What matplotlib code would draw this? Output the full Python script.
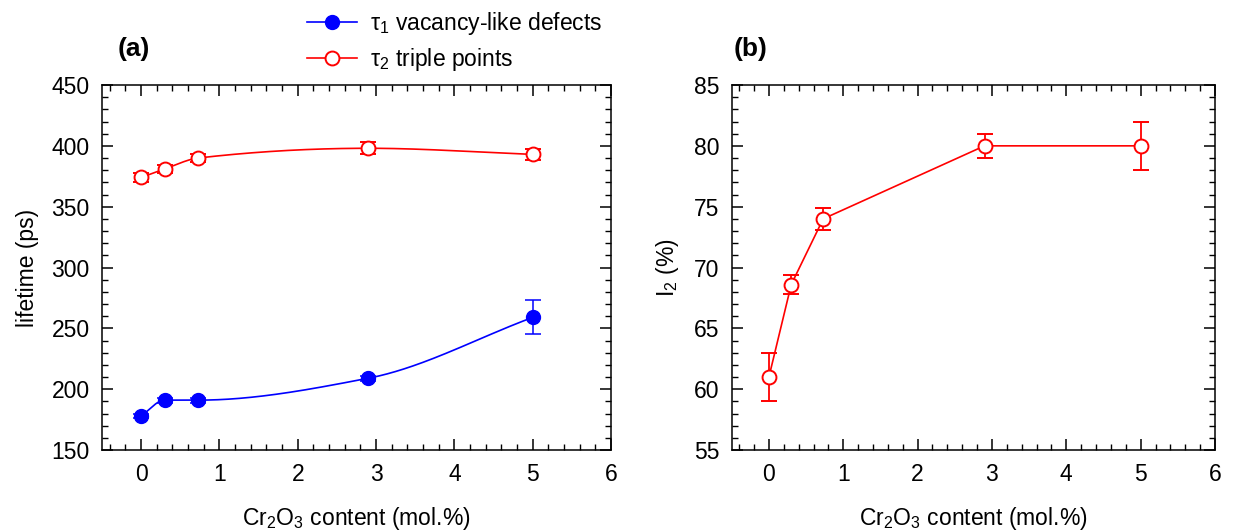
import matplotlib
matplotlib.use("Agg")
import matplotlib.pyplot as plt
import numpy as np
from matplotlib.ticker import MultipleLocator

plt.rcParams['font.family'] = ['Liberation Sans', 'DejaVu Sans']
plt.rcParams['mathtext.fontset'] = 'custom'
plt.rcParams['mathtext.rm'] = 'Liberation Sans'
plt.rcParams['mathtext.it'] = 'Liberation Sans'
plt.rcParams['font.size'] = 16.5

# data
cr2o3 = [0, 0.3, 0.73, 2.9, 5]
tau1 = [178, 191, 191, 209, 259]
tau1_err = [2, 2, 2, 2, 14]
tau2 = [374, 381, 390, 398, 393]
tau2_err = [4, 3.5, 3, 5, 4.5]
i2 = [61, 68.6, 74, 80, 80]
i2_err = [2, 0.8, 0.9, 1, 2]

BLUE = '#0000ff'
RED = '#ff0000'
MS = 10
LW = 1.2


def smooth(x, y, n=200):
    # monotone cubic (pchip-like) path through the points, for drawing only
    x = np.asarray(x, float)
    y = np.asarray(y, float)
    h = np.diff(x)
    d = np.diff(y) / h
    m = np.zeros_like(y)
    for k in range(1, len(x) - 1):
        if d[k - 1] * d[k] > 0:
            w1 = 2 * h[k] + h[k - 1]
            w2 = h[k] + 2 * h[k - 1]
            m[k] = (w1 + w2) / (w1 / d[k - 1] + w2 / d[k])
    m[0] = d[0]
    m[-1] = d[-1]
    xs, ys = [], []
    for k in range(len(x) - 1):
        t = np.linspace(0, 1, n)
        h00 = 2 * t**3 - 3 * t**2 + 1
        h10 = t**3 - 2 * t**2 + t
        h01 = -2 * t**3 + 3 * t**2
        h11 = t**3 - t**2
        xs.append(x[k] + t * h[k])
        ys.append(h00 * y[k] + h10 * h[k] * m[k] + h01 * y[k + 1] + h11 * h[k] * m[k + 1])
    return np.concatenate(xs), np.concatenate(ys)


def style(ax):
    ax.tick_params(which='both', direction='in', top=True, right=True, labelsize=16.5)
    ax.tick_params(which='major', length=8, width=1.1, pad=9)
    ax.tick_params(which='minor', length=4.5, width=1.0)
    for s in ax.spines.values():
        s.set_linewidth(1.1)
    ax.xaxis.set_major_locator(MultipleLocator(1))
    ax.xaxis.set_minor_locator(MultipleLocator(0.2))
    ax.set_xlim(-0.5, 6)
    ax.set_xlabel('Cr$_2$O$_3$ content (mol.%)', labelpad=14)


fig = plt.figure(figsize=(12.5, 5.32), dpi=100)
ax1 = fig.add_axes([0.0816, 0.1541, 0.4072, 0.6861])
ax2 = fig.add_axes([0.5854, 0.1541, 0.3866, 0.6861])

# panel (a)
sx, sy = smooth(cr2o3, tau1)
ax1.plot(sx, sy, color=BLUE, lw=LW)
ax1.errorbar(cr2o3, tau1, yerr=tau1_err, fmt='o', color=BLUE, ms=MS,
             ecolor=BLUE, elinewidth=1.1, capsize=6, capthick=1.1)
h1, = ax1.plot([], [], '-o', color=BLUE, ms=MS, lw=LW,
               label='τ$_1$ vacancy-like defects')

sx, sy = smooth(cr2o3, tau2)
ax1.plot(sx, sy, color=RED, lw=LW)
ax1.errorbar(cr2o3, tau2, yerr=tau2_err, fmt='o', color=RED, mfc='white', mec=RED,
             mew=1.4, ms=MS, ecolor=RED, elinewidth=1.2, capsize=6, capthick=1.6)
h2, = ax1.plot([], [], '-o', color=RED, mfc='white', mec=RED, mew=1.4, ms=MS, lw=LW,
               label='τ$_2$ triple points')

ax1.set_ylim(150, 450)
ax1.yaxis.set_major_locator(MultipleLocator(50))
ax1.yaxis.set_minor_locator(MultipleLocator(10))
ax1.set_ylabel('lifetime (ps)', labelpad=9)
style(ax1)
ax1.text(0.03, 1.1, '(a)', transform=ax1.transAxes, fontsize=19, fontweight='bold',
         va='center')

# panel (b)
ax2.errorbar(cr2o3, i2, yerr=i2_err, fmt='-o', color=RED, mfc='white', mec=RED,
             mew=1.4, ms=MS, lw=LW, ecolor=RED, elinewidth=1.3, capsize=6, capthick=1.4)
ax2.set_ylim(55, 85)
ax2.yaxis.set_major_locator(MultipleLocator(5))
ax2.yaxis.set_minor_locator(MultipleLocator(1))
ax2.set_ylabel('I$_2$ (%)', labelpad=9)
style(ax2)
ax2.text(0.003, 1.1, '(b)', transform=ax2.transAxes, fontsize=19, fontweight='bold',
         va='center')

fig.legend(handles=[h1, h2], loc='upper left', bbox_to_anchor=(0.229, 1.02),
           frameon=False, handlelength=2.2, handletextpad=0.55, labelspacing=0.4,
           fontsize=16.5)

fig.savefig('out.png', dpi=100)
